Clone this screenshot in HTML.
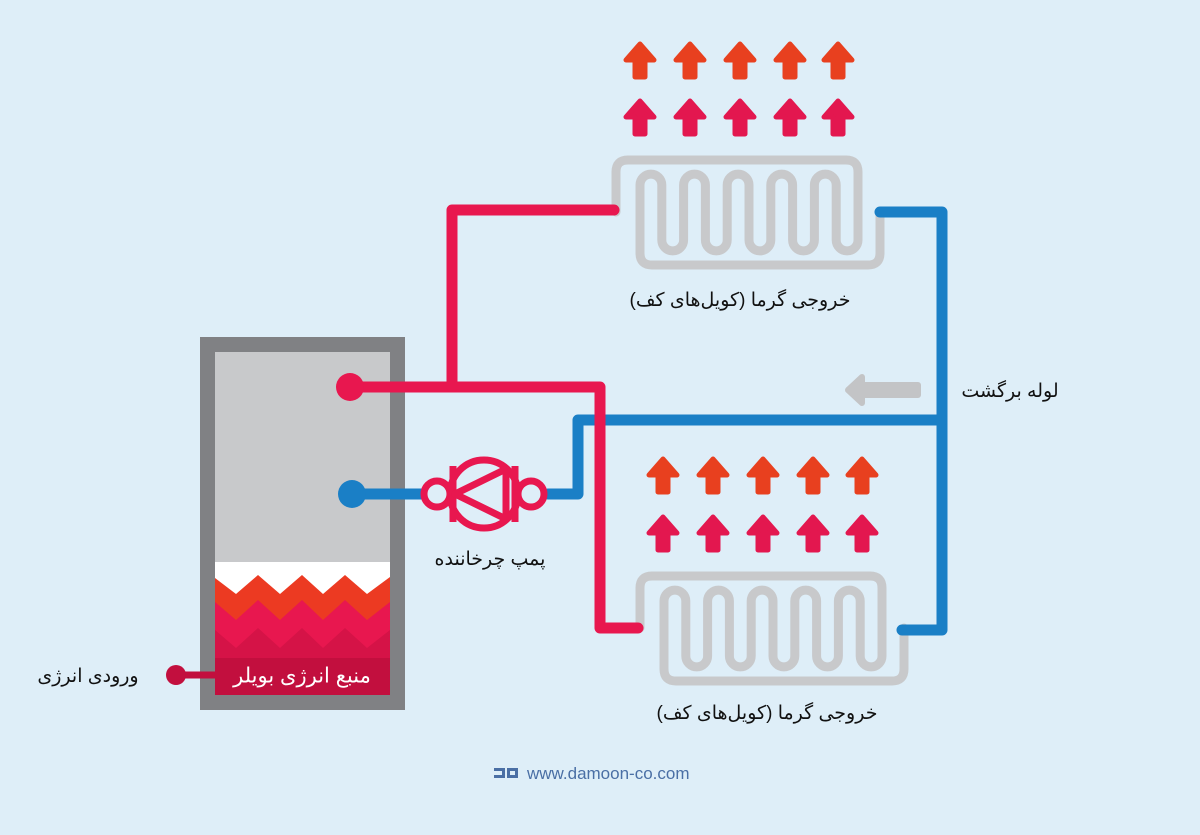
<!DOCTYPE html>
<html><head><meta charset="utf-8"><style>
html,body{margin:0;padding:0;background:#deeef8;}
svg{display:block}
text{font-family:"Liberation Sans","DejaVu Sans","Noto Sans CJK SC",sans-serif;}
</style></head><body>
<svg width="1200" height="835" viewBox="0 0 1200 835" xmlns="http://www.w3.org/2000/svg">
<rect width="1200" height="835" fill="#deeef8"/>
<defs>
<path id="coil" fill="none" stroke="#c8c9cb" stroke-width="9" stroke-linejoin="round" stroke-linecap="round"
d="M616,212 V172 Q616,160 628,160 H846 Q858,160 858,172 V240 A10.9,10.9 0 0 1 836.2,240 V185 A10.9,10.9 0 0 0 814.4,185 V240 A10.9,10.9 0 0 1 792.6,240 V185 A10.9,10.9 0 0 0 770.8,185 V240 A10.9,10.9 0 0 1 749,240 V185 A10.9,10.9 0 0 0 727.2,185 V240 A10.9,10.9 0 0 1 705.4,240 V185 A10.9,10.9 0 0 0 683.6,185 V240 A10.9,10.9 0 0 1 661.8,240 V185 A10.9,10.9 0 0 0 640,185 V253 Q640,265 652,265 H868 Q880,265 880,253 V212"/>
<path id="arr" d="M0,0 L14,16 L5,16 L5,33 L-5,33 L-5,16 L-14,16 Z" stroke-linejoin="round" stroke-width="5"/>
</defs>

<g fill="#e8401f" stroke="#e8401f">
<use href="#arr" x="640" y="44"/><use href="#arr" x="690" y="44"/><use href="#arr" x="740" y="44"/><use href="#arr" x="790" y="44"/><use href="#arr" x="838" y="44"/>
<use href="#arr" x="663" y="459"/><use href="#arr" x="713" y="459"/><use href="#arr" x="763" y="459"/><use href="#arr" x="813" y="459"/><use href="#arr" x="862" y="459"/>
</g>
<g fill="#e3174f" stroke="#e3174f">
<use href="#arr" x="640" y="101"/><use href="#arr" x="690" y="101"/><use href="#arr" x="740" y="101"/><use href="#arr" x="790" y="101"/><use href="#arr" x="838" y="101"/>
<use href="#arr" x="663" y="517"/><use href="#arr" x="713" y="517"/><use href="#arr" x="763" y="517"/><use href="#arr" x="813" y="517"/><use href="#arr" x="862" y="517"/>
</g>

<use href="#coil"/>
<use href="#coil" transform="translate(24,416)"/>

<g fill="none" stroke="#1a7fc6" stroke-width="11" stroke-linejoin="round" stroke-linecap="round">
<path d="M880,212 H942 V630 H902"/>
<path d="M548,494 H578 V420 H942"/>
</g>
<path d="M848,390 L862,377 L862,385 L918,385 L918,395 L862,395 L862,403 Z" fill="#c3c4c6" stroke="#c3c4c6" stroke-width="6" stroke-linejoin="round"/>

<!-- boiler -->
<rect x="200" y="337" width="205" height="373" fill="#808184"/>
<rect x="215" y="352" width="175" height="343" fill="#c8c9cb"/>
<rect x="215" y="562" width="175" height="133" fill="#ffffff"/>
<path d="M215,578 L236,594 L258,575 L280,594 L302,575 L323,594 L345,575 L367,594 L390,577 V695 H215 Z" fill="#ec3a22"/>
<path d="M215,602 L236,620 L258,600 L280,620 L302,600 L323,620 L345,600 L367,620 L390,602 V695 H215 Z" fill="#e8174f"/>
<path d="M215,630 L236,648 L258,628 L280,648 L302,628 L323,648 L345,628 L367,648 L390,630 V695 H215 Z" fill="#d51347"/>
<rect x="215" y="658" width="175" height="37" fill="#c20f3e"/>
<text x="302" y="677" font-size="21" fill="#fff" text-anchor="middle" dominant-baseline="middle">منبع انرژی بویلر</text>
<path d="M175,675 H215" stroke="#c20f3e" stroke-width="7"/>
<circle cx="176" cy="675" r="10" fill="#c20f3e"/>

<!-- blue inlet -->
<path d="M352,494 H425" stroke="#1a7fc6" stroke-width="11" fill="none"/>
<circle cx="352" cy="494" r="14" fill="#1a7fc6"/>

<g fill="none" stroke="#e8174f" stroke-width="11" stroke-linejoin="round" stroke-linecap="round">
<path d="M350,387 H600 V628 H638"/>
<path d="M452,387 V210 H614"/>
</g>
<circle cx="350" cy="387" r="14" fill="#e8174f"/>

<g fill="none" stroke="#e8174f" stroke-width="7">
<circle cx="437" cy="494" r="13"/>
<circle cx="531" cy="494" r="13"/>
<circle cx="484" cy="494" r="34"/>
<path d="M453,466 V522 M515,466 V522"/>
<path d="M455,494 L506,469 L506,519 Z" stroke-linejoin="round"/>
</g>

<text x="740" y="306" font-size="19" fill="#111" text-anchor="middle">خروجی گرما (کویل‌های کف)</text>
<text x="767" y="719" font-size="19" fill="#111" text-anchor="middle">خروجی گرما (کویل‌های کف)</text>
<text x="1010" y="397" font-size="19" fill="#111" text-anchor="middle">لوله برگشت</text>
<text x="490" y="565" font-size="19" fill="#111" text-anchor="middle">پمپ چرخاننده</text>
<text x="88" y="682" font-size="19" fill="#111" text-anchor="middle">ورودی انرژی</text>

<g fill="#4a6fa5">
<rect x="494" y="768" width="11" height="3"/><rect x="494" y="775" width="11" height="3"/><rect x="502" y="768" width="3" height="10"/>
<rect x="507" y="768" width="11" height="3"/><rect x="507" y="775" width="11" height="3"/><rect x="507" y="771" width="3" height="5"/><rect x="515" y="768" width="3" height="10"/>
</g>
<text x="527" y="779" font-size="17" fill="#4a6fa5">www.damoon-co.com</text>
</svg>
</body></html>
